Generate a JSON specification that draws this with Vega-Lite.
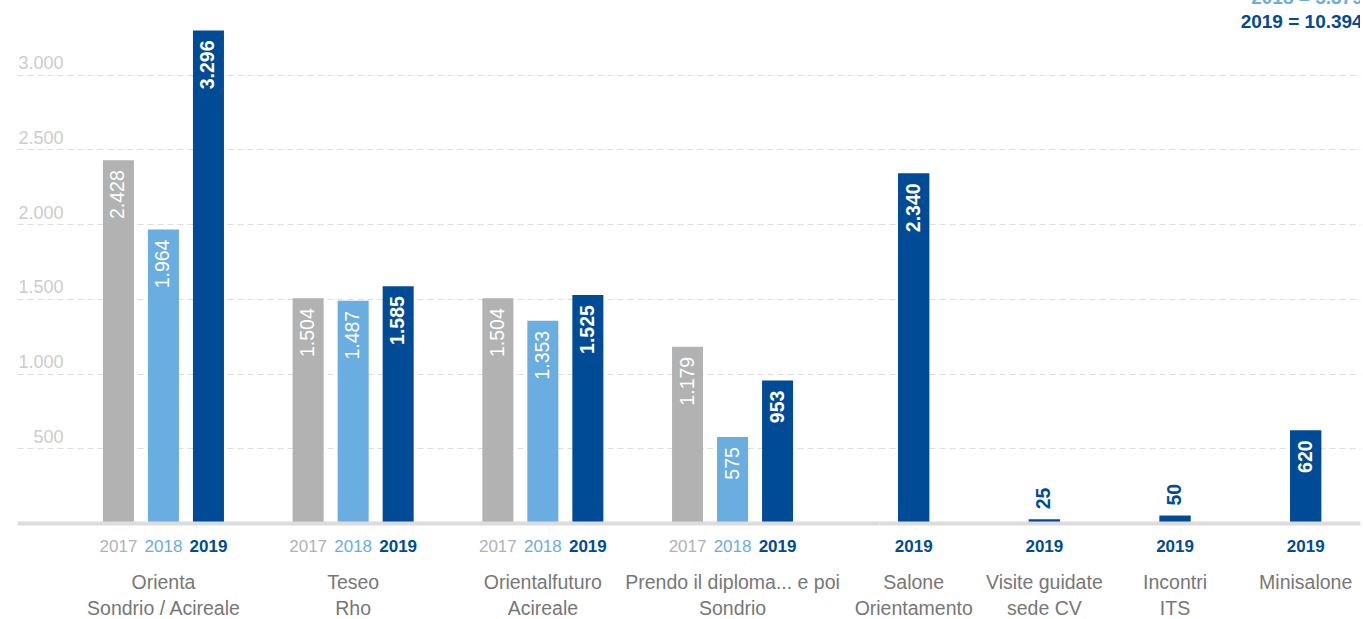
{
  "$schema": "https://vega.github.io/schema/vega-lite/v6.json",
  "autosize": {"type": "pad"},
  "padding": {"left": 17, "top": 0, "right": 3, "bottom": 0},
  "bounds": "flush",
  "spacing": 0,
  "background": "white",
  "config": {
    "font": "Liberation Sans",
    "view": {"stroke": null},
    "locale": {"number": {"decimal": ",", "thousands": ".", "grouping": [3], "currency": ["€", ""]}},
    "axis": {"labelFont": "Liberation Sans"}
  },
  "datasets": {
    "left": [
      {"cat": "Orienta|Sondrio / Acireale", "year": "2017", "value": 2428},
      {"cat": "Orienta|Sondrio / Acireale", "year": "2018", "value": 1964},
      {"cat": "Orienta|Sondrio / Acireale", "year": "2019", "value": 3296},
      {"cat": "Teseo|Rho", "year": "2017", "value": 1504},
      {"cat": "Teseo|Rho", "year": "2018", "value": 1487},
      {"cat": "Teseo|Rho", "year": "2019", "value": 1585},
      {"cat": "Orientalfuturo|Acireale", "year": "2017", "value": 1504},
      {"cat": "Orientalfuturo|Acireale", "year": "2018", "value": 1353},
      {"cat": "Orientalfuturo|Acireale", "year": "2019", "value": 1525},
      {"cat": "Prendo il diploma... e poi|Sondrio", "year": "2017", "value": 1179},
      {"cat": "Prendo il diploma... e poi|Sondrio", "year": "2018", "value": 575},
      {"cat": "Prendo il diploma... e poi|Sondrio", "year": "2019", "value": 953}
    ],
    "right": [
      {"cat": "Salone|Orientamento", "year": "2019", "value": 2340},
      {"cat": "Visite guidate|sede CV", "year": "2019", "value": 25},
      {"cat": "Incontri|ITS", "year": "2019", "value": 50},
      {"cat": "Minisalone", "year": "2019", "value": 620}
    ],
    "totals": [
      {"label": "2018 = 5.379", "year": "2018"},
      {"label": "2019 = 10.394", "year": "2019"}
    ]
  },
  "hconcat": [
    {
      "data": {"name": "left"},
      "width": 862,
      "height": 523,
      "encoding": {
        "x": {
          "field": "cat", "type": "nominal", "sort": null,
          "scale": {"paddingInner": 0.362, "paddingOuter": 0.453},
          "axis": {
            "title": null, "orient": "bottom", "labelAngle": 0,
            "labelExpr": "split(datum.label, '|')",
            "labelFontSize": 19.5, "labelColor": "#777777", "labelLineHeight": 26,
            "labelPadding": 50, "labelBaseline": "top", "labelOverlap": false, "labelBound": false, "labelFlush": false, "labelLimit": 0,
            "ticks": false, "tickSize": 0,
            "domainColor": "#dcdcdc", "domainWidth": 4, "domainCap": "butt",
            "zindex": 1
          }
        },
        "xOffset": {"field": "year", "type": "nominal", "scale": {"paddingInner": 0.311, "paddingOuter": 0}},
        "y": {
          "field": "value", "type": "quantitative",
          "scale": {"domain": [0, 3500], "nice": false},
          "axis": {
            "title": null, "values": [500, 1000, 1500, 2000, 2500, 3000],
            "format": ",.0f", "domain": false, "ticks": false, "tickSize": 0,
            "labelAlign": "right", "labelPadding": -46, "labelBaseline": "alphabetic", "labelOffset": -6,
            "labelFontSize": 18, "labelColor": "#cccccc",
            "grid": true, "gridColor": "#dddddd", "gridDash": [6, 4], "gridWidth": 1,
            "minExtent": 0, "maxExtent": 0
          }
        }
      },
      "layer": [
        {
          "mark": {"type": "bar"},
          "encoding": {
            "color": {"field": "year", "type": "nominal", "legend": null,
              "scale": {"domain": ["2017", "2018", "2019"], "range": ["#b2b2b2", "#6aade0", "#004b96"]}}
          }
        },
        {
          "transform": [{"filter": "datum.year != '2019'"}],
          "mark": {"type": "text", "angle": 270, "align": "right", "baseline": "middle", "dx": -10, "fontSize": 19.5, "color": "white"},
          "encoding": {"text": {"field": "value", "type": "quantitative", "format": ",.0f"}}
        },
        {
          "transform": [{"filter": "datum.year == '2019' && datum.value >= 200"}],
          "mark": {"type": "text", "angle": 270, "align": "right", "baseline": "middle", "dx": -10, "fontSize": 19.5, "fontWeight": "bold", "color": "white"},
          "encoding": {"text": {"field": "value", "type": "quantitative", "format": ",.0f"}}
        },
        {
          "transform": [{"filter": "datum.year != '2019'"}],
          "mark": {"type": "text", "align": "center", "baseline": "middle", "dy": 24, "fontSize": 17},
          "encoding": {
            "y": {"datum": 0},
            "text": {"field": "year", "type": "nominal"},
            "color": {"field": "year", "type": "nominal", "legend": null}
          }
        },
        {
          "transform": [{"filter": "datum.year == '2019'"}],
          "mark": {"type": "text", "align": "center", "baseline": "middle", "dy": 24, "fontSize": 17, "fontWeight": "bold"},
          "encoding": {
            "y": {"datum": 0},
            "text": {"field": "year", "type": "nominal"},
            "color": {"field": "year", "type": "nominal", "legend": null}
          }
        }
      ]
    },
    {
      "data": {"name": "right"},
      "width": 481,
      "height": 523,
      "layer": [
        {
          "encoding": {
            "x": {
              "field": "cat", "type": "nominal", "sort": null,
              "scale": {"paddingInner": 0.76, "paddingOuter": 0.2206, "align": 0.33},
              "axis": {
                "title": null, "orient": "bottom", "labelAngle": 0,
                "labelExpr": "split(datum.label, '|')",
                "labelFontSize": 19.5, "labelColor": "#777777", "labelLineHeight": 26,
                "labelPadding": 50, "labelBaseline": "top", "labelOverlap": false, "labelBound": false, "labelFlush": false, "labelLimit": 0,
                "ticks": false, "tickSize": 0,
                "domainColor": "#dcdcdc", "domainWidth": 4, "domainCap": "butt",
                "zindex": 1
              }
            },
            "y": {
              "field": "value", "type": "quantitative",
              "scale": {"domain": [0, 3500], "nice": false},
              "axis": {
                "title": null, "values": [500, 1000, 1500, 2000, 2500, 3000],
                "labels": false, "domain": false, "ticks": false, "tickSize": 0,
                "grid": true, "gridColor": "#dddddd", "gridDash": [6, 4], "gridWidth": 1,
                "minExtent": 0, "maxExtent": 0
              }
            }
          },
          "layer": [
            {
              "mark": {"type": "bar"},
              "encoding": {
                "color": {"field": "year", "type": "nominal", "legend": null,
                  "scale": {"domain": ["2017", "2018", "2019"], "range": ["#b2b2b2", "#6aade0", "#004b96"]}}
              }
            },
            {
              "transform": [{"filter": "datum.value >= 200"}],
              "mark": {"type": "text", "angle": 270, "align": "right", "baseline": "middle", "dx": -10, "fontSize": 19.5, "fontWeight": "bold", "color": "white"},
              "encoding": {"text": {"field": "value", "type": "quantitative", "format": ",.0f"}}
            },
            {
              "transform": [{"filter": "datum.value < 200"}],
              "mark": {"type": "text", "angle": 270, "align": "left", "baseline": "middle", "dx": 10, "fontSize": 19.5, "fontWeight": "bold", "color": "#004b96"},
              "encoding": {"text": {"field": "value", "type": "quantitative", "format": ",.0f"}}
            },
            {
              "mark": {"type": "text", "align": "center", "baseline": "middle", "dy": 24, "fontSize": 17, "fontWeight": "bold"},
              "encoding": {
                "y": {"datum": 0},
                "text": {"field": "year", "type": "nominal"},
                "color": {"field": "year", "type": "nominal", "legend": null}
              }
            }
          ]
        },
        {
          "data": {"name": "totals"},
          "transform": [{"filter": "datum.year == '2018'"}],
          "mark": {"type": "text", "align": "right", "baseline": "alphabetic", "dy": 4, "dx": 57, "fontSize": 19, "fontWeight": "bold", "clip": true},
          "encoding": {
            "x": {"datum": "Minisalone"},
            "y": {"datum": 3500},
            "text": {"field": "label"},
            "color": {"field": "year", "type": "nominal", "legend": null}
          }
        },
        {
          "data": {"name": "totals"},
          "transform": [{"filter": "datum.year == '2019'"}],
          "mark": {"type": "text", "align": "right", "baseline": "alphabetic", "dy": 28, "dx": 57, "fontSize": 19, "fontWeight": "bold", "clip": true},
          "encoding": {
            "x": {"datum": "Minisalone"},
            "y": {"datum": 3500},
            "text": {"field": "label"},
            "color": {"field": "year", "type": "nominal", "legend": null}
          }
        }
      ]
    }
  ]
}
